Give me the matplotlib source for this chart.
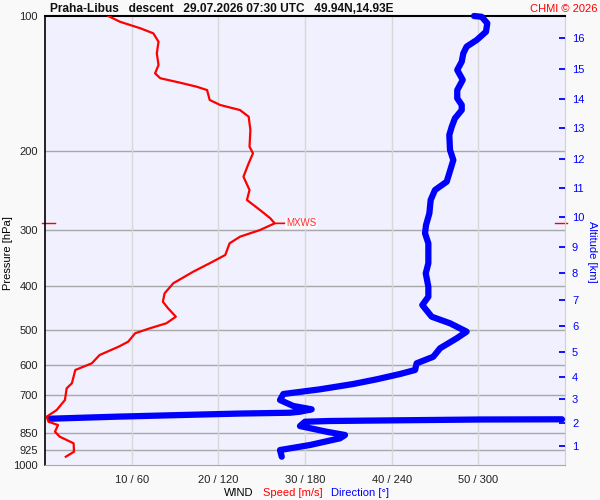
import matplotlib
matplotlib.use('Agg')
import matplotlib.pyplot as plt
from matplotlib.ticker import NullLocator
import matplotlib.transforms as mtransforms

plt.rcParams['font.family'] = ['Liberation Sans', 'DejaVu Sans']

# wind speed profile (m/s) vs pressure (hPa)
spd_p = [100, 103, 106.5, 109.3, 114.1, 121.1, 128.6, 134.2, 137.6, 140.8, 143.7, 146.2,
         153.8, 157.8, 162.0, 167.6, 179.5, 195.5, 202.2, 212.8, 228.0, 244.1, 256.9,
         270.4, 282.2, 289.6, 299.7, 310.1, 320.8, 340.6, 355.4, 371.1, 393.8, 414.6,
         432.9, 447.7, 467.4, 483.5, 496.1, 508.9, 531.3, 545.1, 568.9, 593.6, 614.3,
         657.7, 674.9, 716.6, 754.2, 780.5, 801.0, 814.7, 843.2, 864.9, 894.7, 934.1, 958.4]
spd = [7.3, 8.65, 11.0, 12.5, 13.1, 12.9, 13.1, 12.7, 13.3, 15.6, 17.5, 18.7,
       19.0, 20.2, 22.5, 23.5, 23.7, 23.6, 24.0, 23.5, 22.9, 23.6, 23.3,
       24.8, 26.0, 26.5, 24.8, 22.5, 21.3, 20.8, 19.0, 17.1, 14.8, 13.8,
       13.6, 14.2, 15.1, 14.0, 12.1, 10.4, 9.6, 8.5, 6.3, 5.4, 3.5,
       3.1, 2.5, 2.3, 1.35, 0.2, 0.4, 1.5, 1.15, 1.7, 3.3, 3.35, 2.4]

# wind direction (deg) vs pressure, None = wrap 0/360
dir_p = [100, 100.4, 103.8, 108.4, 113.1, 117.0, 121.1, 126.4, 131.9, 138.8, 146.2, 152.5,
         157.8, 162.0, 169.0, 176.4, 184.1, 198.8, 209.3, 224.0, 233.9, 244.1, 256.9,
         275.1, 292.1, 304.8, 320.8, 355.4, 374.2, 400.8, 421.9, 440.3, 467.4, 483.5,
         504.7, 522.2, 549.6, 574.0, 593.6, 614.3, 627.1, 644.4, 660.1, 678.3, 694.9,
         716.6, 738.9, 751.6, 760.9, 764.9, 768.1, 774.0, 780.5, 788.7, None,
         791.1, 791.9, 795.1, 798.0, 801.0, 818.9, 843.2, 857.5, 872.1, 902.5, 926.1, 958.4]
wdir = [297.0, 302.3, 306.2, 305.3, 298.9, 291.9, 289.6, 288.5, 285.4, 289.2, 285.4, 285.4,
        288.5, 288.5, 283.8, 281.6, 279.9, 280.4, 282.7, 279.9, 278.1, 270.0, 267.0,
        266.1, 263.8, 263.1, 265.4, 265.4, 263.6, 265.4, 265.4, 261.2, 267.7, 280.4,
        291.9, 285.0, 273.5, 268.8, 257.3, 256.2, 245.8, 229.6, 213.4, 190.4, 165.0,
        162.7, 171.9, 184.6, 176.5, 169.6, 135.0, 93.5, 49.6, 3.5, None,
        357.9, 301.2, 245.8, 197.3, 180.0, 176.5, 195.0, 207.7, 204.2, 183.5, 162.7, 163.9]

# maximum wind
mxws_p = 289.6
mxws_s = 26.5

p_levels = [100, 200, 300, 400, 500, 600, 700, 850, 925, 1000]
spd_ticks = [10, 20, 30, 40, 50]

# altitude (km) ticks on right side, at the pressure where they fall
alt_km = [1, 2, 3, 4, 5, 6, 7, 8, 9, 10, 11, 12, 13, 14, 15, 16]
alt_p = [907, 805, 714, 636, 559, 490, 429, 374, 326.5, 281, 242, 208, 178, 153, 131, 112]

fig = plt.figure(figsize=(6, 5), dpi=100, facecolor='#f9f9f9')
ax = fig.add_axes([45/600, 35/500, 520/600, 449/500])  # direction axis 0..360
ax.set_facecolor('#f0f0fe')
ax.set_yscale('log')
ax.set_ylim(1000, 100)
ax.set_xlim(0, 360)
ax.yaxis.set_minor_locator(NullLocator())
ax.set_yticks(p_levels)
ax.set_yticklabels([str(p) for p in p_levels], fontsize=8, color='#222222')
ax.set_xticks([s * 6 for s in spd_ticks])
ax.set_xticklabels(['%d / %d' % (s, s * 6) for s in spd_ticks], fontsize=8, color='#222222')
ax.tick_params(axis='both', length=0, pad=5)
ax.tick_params(axis='x', pad=7)
ax.grid(False)
for p in p_levels[1:-1]:
    ax.axhline(p, color='#a8a8a8', lw=1, zorder=1)
for s in spd_ticks:
    ax.axvline(s * 6, color='#d8d8d8', lw=1, zorder=1)
ax.spines['left'].set_color('black')
ax.spines['left'].set_linewidth(1.2)
ax.spines['top'].set_color('black')
ax.spines['top'].set_linewidth(1.5)
ax.spines['bottom'].set_color('#a8a8a8')
ax.spines['right'].set_color('#d0d0d0')

# direction line
xs = [d if d is not None else float('nan') for d in wdir]
ys = [p if p is not None else float('nan') for p in dir_p]
ax.plot(xs, ys, color='#0000ff', lw=4.5, solid_capstyle='round', solid_joinstyle='round',
        zorder=3, clip_on=False)

# speed on twin axis (drawn on top)
ax_s = ax.twiny()
ax_s.set_xlim(0, 60)
ax_s.set_xticks([])
for sp in ax_s.spines.values():
    sp.set_visible(False)
ax_s.plot(spd, spd_p, color='#ff0000', lw=1.6, zorder=4)

ax_s.annotate('MXWS', xy=(mxws_s, mxws_p), xytext=(8, 0), textcoords='offset points',
              va='center', ha='left', color='#ff3030', fontsize=7,
              bbox=dict(facecolor='white', edgecolor='none', pad=0.5, alpha=0.7),
              arrowprops=dict(arrowstyle='-', color='red', lw=1.2, shrinkA=0, shrinkB=0))
trans = mtransforms.blended_transform_factory(ax.transAxes, ax.transData)
ax.plot([-0.005, 0.019], [mxws_p, mxws_p], color='red', lw=1, transform=trans, clip_on=False)
ax.plot([0.98, 1.004], [mxws_p, mxws_p], color='red', lw=1, transform=trans, clip_on=False)

# altitude axis
ax_a = ax.twinx()
ax_a.set_yscale('log')
ax_a.set_ylim(1000, 100)
ax_a.yaxis.set_minor_locator(NullLocator())
ax_a.set_yticks(alt_p)
ax_a.set_yticklabels([str(k) for k in alt_km], fontsize=8, color='#0000ff')
ax_a.tick_params(axis='y', direction='in', length=4.5, width=1.3, color='#0000ff', pad=5)
for sp in ax_a.spines.values():
    sp.set_visible(False)

# texts
fig.text(50/600, 1 - 9/500, 'Praha-Libus   descent   29.07.2026 07:30 UTC   49.94N,14.93E',
         fontsize=8.6, fontweight='bold', ha='left', va='center', color='#111111')
fig.text(598/600, 1 - 9/500, 'CHMI \u00a9 2026', fontsize=8, color='#ff0000', ha='right', va='center')
fig.text(8/600, 1 - 253/500, 'Pressure [hPa]', rotation=90, fontsize=8, ha='center', va='center')
fig.text(592/600, 1 - 252/500, 'Altitude [km]', rotation=270, fontsize=8, color='#0000ff',
         ha='center', va='center')
fig.text(239/600, 1 - 493/500, 'WIND', fontsize=8, ha='center', va='center')
fig.text(293/600, 1 - 493/500, 'Speed [m/s]', fontsize=8, color='#ff0000', ha='center', va='center')
fig.text(360/600, 1 - 493/500, 'Direction [\u00b0]', fontsize=8, color='#0000ff', ha='center', va='center')

fig.savefig('out.png', dpi=100, facecolor=fig.get_facecolor())
